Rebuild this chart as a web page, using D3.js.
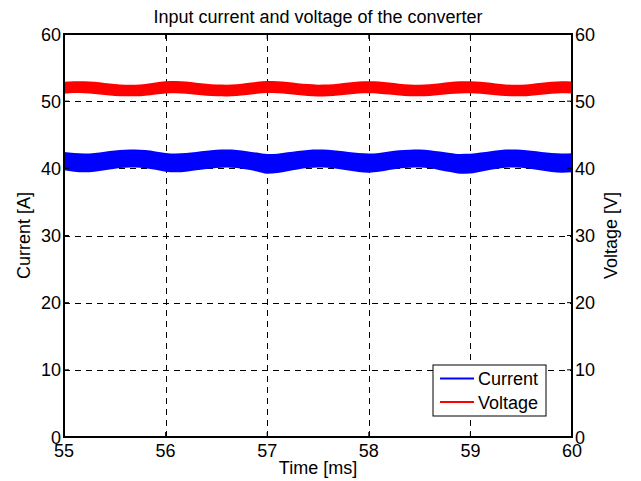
<!DOCTYPE html>
<html>
<head>
<meta charset="utf-8">
<script src="https://cdn.jsdelivr.net/npm/d3@7"></script>
<style>
  body { margin: 0; background: #fff; }
  text { font-family: "Liberation Sans", Arial, sans-serif; fill: #000; }
</style>
</head>
<body>
<script>
var width = 641, height = 481;

// time axis, sampled every 0.1 ms
var time = d3.range(0, 51).map(function(i) { return +(55 + i * 0.1).toFixed(1); });

// envelope of the switching ripple band
var currentUpper = [42.42, 42.28, 42.22, 42.30, 42.48, 42.66, 42.78, 42.80, 42.72, 42.52,
  42.30, 42.22, 42.30, 42.45, 42.62, 42.75, 42.80, 42.74, 42.56, 42.34,
  42.12, 42.18, 42.38, 42.58, 42.74, 42.80, 42.76, 42.62, 42.44, 42.28,
  42.20, 42.30, 42.50, 42.68, 42.78, 42.80, 42.70, 42.50, 42.30, 42.14,
  42.16, 42.34, 42.56, 42.74, 42.80, 42.76, 42.62, 42.44, 42.28, 42.20, 42.24];
var currentLower = [39.70, 39.50, 39.42, 39.50, 39.72, 39.95, 40.08, 40.12, 40.02, 39.78,
  39.50, 39.40, 39.50, 39.70, 39.90, 40.05, 40.12, 40.04, 39.82, 39.52,
  39.20, 39.30, 39.58, 39.84, 40.04, 40.13, 40.08, 39.90, 39.66, 39.44,
  39.36, 39.48, 39.74, 39.96, 40.10, 40.12, 40.00, 39.72, 39.44, 39.20,
  39.24, 39.50, 39.80, 40.02, 40.13, 40.08, 39.90, 39.66, 39.44, 39.36, 39.40];
var voltageUpper = [52.88, 52.98, 52.98, 52.88, 52.72, 52.56, 52.46, 52.45, 52.56, 52.78,
  52.95, 53.00, 52.92, 52.76, 52.58, 52.47, 52.45, 52.52, 52.70, 52.88,
  53.00, 52.98, 52.86, 52.68, 52.54, 52.46, 52.48, 52.60, 52.78, 52.92,
  52.98, 52.92, 52.78, 52.60, 52.48, 52.45, 52.52, 52.68, 52.84, 52.95,
  52.98, 52.90, 52.74, 52.56, 52.46, 52.46, 52.56, 52.74, 52.88, 52.96, 52.94];
var voltageLower = [51.10, 51.20, 51.18, 51.06, 50.92, 50.78, 50.72, 50.72, 50.80, 50.98,
  51.14, 51.19, 51.12, 50.96, 50.82, 50.73, 50.71, 50.78, 50.92, 51.09,
  51.20, 51.18, 51.06, 50.90, 50.78, 50.71, 50.74, 50.84, 51.00, 51.14,
  51.18, 51.12, 50.98, 50.84, 50.74, 50.72, 50.78, 50.92, 51.06, 51.16,
  51.18, 51.10, 50.94, 50.80, 50.72, 50.73, 50.82, 50.96, 51.10, 51.18, 51.16];

var xTicks = [55, 56, 57, 58, 59, 60];
var yTicks = [0, 10, 20, 30, 40, 50, 60];
var seriesNames = ["Current", "Voltage"];
var seriesColors = ["#0000ff", "#ff0000"];

var margin = { left: 64, right: 69, top: 34, bottom: 44 };

var svg = d3.select("body").append("svg")
  .attr("width", width)
  .attr("height", height)
  .attr("xmlns", "http://www.w3.org/2000/svg");

var x = d3.scaleLinear().domain([55, 60]).range([margin.left, width - margin.right]);
var yL = d3.scaleLinear().domain([0, 60]).range([height - margin.bottom, margin.top]);
var yR = d3.scaleLinear().domain([0, 60]).range([height - margin.bottom, margin.top]);

var x0 = x.range()[0], x1 = x.range()[1];
var y0 = yL.range()[0], y1 = yL.range()[1];

// grid
var grid = svg.append("g").attr("stroke", "#000").attr("stroke-width", 1)
  .attr("stroke-dasharray", "6,5").attr("fill", "none");
grid.selectAll("line.gx").data(xTicks.slice(1, -1)).enter().append("line")
  .attr("x1", function(d) { return Math.round(x(d)) + 0.5; })
  .attr("x2", function(d) { return Math.round(x(d)) + 0.5; })
  .attr("y1", y0).attr("y2", y1);
grid.selectAll("line.gy").data(yTicks.slice(1, -1)).enter().append("line")
  .attr("y1", function(d) { return Math.round(yL(d)) + 0.5; })
  .attr("y2", function(d) { return Math.round(yL(d)) + 0.5; })
  .attr("x1", x0).attr("x2", x1);

// ripple bands
function band(upper, lower, yScale) {
  return d3.area()
    .x(function(d, i) { return x(time[i]); })
    .y0(function(d, i) { return yScale(lower[i]); })
    .y1(function(d, i) { return yScale(upper[i]); })
    .curve(d3.curveMonotoneX)(time);
}
svg.append("path").attr("d", band(currentUpper, currentLower, yL)).attr("fill", seriesColors[0]);
svg.append("path").attr("d", band(voltageUpper, voltageLower, yR)).attr("fill", seriesColors[1]);

// axes box
svg.append("rect").attr("x", x0).attr("y", y1).attr("width", x1 - x0).attr("height", y0 - y1)
  .attr("fill", "none").attr("stroke", "#000").attr("stroke-width", 2);

// ticks (inward, MATLAB style)
var ticks = svg.append("g").attr("stroke", "#000").attr("stroke-width", 1);
xTicks.forEach(function(t) {
  ticks.append("line").attr("x1", x(t)).attr("x2", x(t)).attr("y1", y0).attr("y2", y0 - 5);
  ticks.append("line").attr("x1", x(t)).attr("x2", x(t)).attr("y1", y1).attr("y2", y1 + 5);
});
yTicks.forEach(function(t) {
  ticks.append("line").attr("x1", x0).attr("x2", x0 + 5).attr("y1", yL(t)).attr("y2", yL(t));
  ticks.append("line").attr("x1", x1).attr("x2", x1 - 5).attr("y1", yR(t)).attr("y2", yR(t));
});

// tick labels
svg.selectAll("text.xt").data(xTicks).enter().append("text")
  .attr("x", function(d) { return x(d); }).attr("y", y0 + 20)
  .attr("text-anchor", "middle").style("font-size", "18px").text(function(d) { return d; });
svg.selectAll("text.yl").data(yTicks).enter().append("text")
  .attr("x", x0 - 3).attr("y", function(d) { return yL(d) + 6.5; })
  .attr("text-anchor", "end").style("font-size", "18px").text(function(d) { return d; });
svg.selectAll("text.yr").data(yTicks).enter().append("text")
  .attr("x", x1 + 3).attr("y", function(d) { return yR(d) + 6.5; })
  .attr("text-anchor", "start").style("font-size", "18px").text(function(d) { return d; });

// titles
svg.append("text").attr("x", (x0 + x1) / 2).attr("y", 23).attr("text-anchor", "middle")
  .style("font-size", "18px").text("Input current and voltage of the converter");
svg.append("text").attr("x", (x0 + x1) / 2).attr("y", 474).attr("text-anchor", "middle")
  .style("font-size", "18px").text("Time [ms]");
svg.append("text").attr("transform", "translate(30," + ((y0 + y1) / 2) + ")rotate(-90)")
  .attr("text-anchor", "middle").style("font-size", "18px").text("Current [A]");
svg.append("text").attr("transform", "translate(617," + ((y0 + y1) / 2) + ")rotate(-90)")
  .attr("text-anchor", "middle").style("font-size", "18px").text("Voltage [V]");

// legend
var lg = svg.append("g").attr("transform", "translate(433,365)");
lg.append("rect").attr("width", 113).attr("height", 51)
  .attr("fill", "#fff").attr("stroke", "#000").attr("stroke-width", 1);
seriesNames.forEach(function(name, i) {
  var ly = 13.5 + i * 23.5;
  lg.append("line").attr("x1", 7).attr("x2", 41).attr("y1", ly).attr("y2", ly)
    .attr("stroke", seriesColors[i]).attr("stroke-width", 2);
  lg.append("text").attr("x", 45).attr("y", ly + 6.5).style("font-size", "18px").text(name);
});
</script>
</body>
</html>
